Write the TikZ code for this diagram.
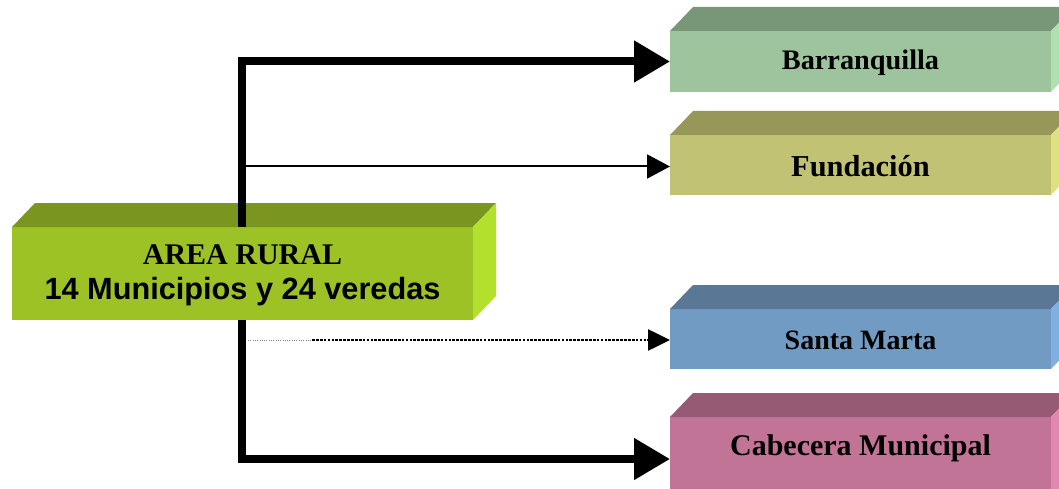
\documentclass[tikz,border=0pt]{standalone}
\usepackage{fontspec}
\setmainfont{Liberation Serif}
\newfontfamily\arialfont{Liberation Sans}
\usetikzlibrary{arrows.meta,calc}
\definecolor{mainF}{RGB}{157,194,38}
\definecolor{mainT}{RGB}{123,150,32}
\definecolor{mainS}{RGB}{178,224,44}
\definecolor{barF}{RGB}{157,196,157}
\definecolor{barT}{RGB}{120,150,120}
\definecolor{barS}{RGB}{176,224,176}
\definecolor{funF}{RGB}{194,194,117}
\definecolor{funT}{RGB}{151,151,90}
\definecolor{funS}{RGB}{224,224,128}
\definecolor{smF}{RGB}{114,155,196}
\definecolor{smT}{RGB}{90,120,150}
\definecolor{smS}{RGB}{128,176,224}
\definecolor{cabF}{RGB}{194,116,151}
\definecolor{cabT}{RGB}{151,90,117}
\definecolor{cabS}{RGB}{224,136,176}
\newcommand\cubebox[8]{%
  \node[frontface, fill=#6, minimum width=#4, minimum height=#5] (#1) at (#2,#3) {};
  \fill[#7] (#1.north west) -- ++(23,-24) -- ($(#1.north east)+(23,-24)$) -- (#1.north east) -- cycle;
  \fill[#8] (#1.north east) -- ++(23,-24) -- ($(#1.south east)+(23,-24)$) -- (#1.south east) -- cycle;
}
\tikzset{
  frontface/.style={anchor=north west, inner sep=0pt, outer sep=0pt, draw=none},
  boxlabel/.style={font=\bfseries\fontsize{28.3}{34}\selectfont, inner sep=0pt},
  thickline/.style={line width=8pt, line join=miter, -{Triangle[length=36pt,width=40pt]}},
  thinline/.style={line width=2pt, -{Triangle[length=23pt,width=24pt]}},
}
\begin{document}
\begin{tikzpicture}[x=1pt,y=-1pt]
\useasboundingbox (0,0) rectangle (1059,489);
\clip (0,0) rectangle (1059,489);
\cubebox{main}{12}{227}{461pt}{93pt}{mainF}{mainT}{mainS}
\cubebox{barr}{670}{31}{381pt}{61pt}{barF}{barT}{barS}
\cubebox{fund}{670}{135}{381pt}{60pt}{funF}{funT}{funS}
\cubebox{sm}{670}{309}{381pt}{60pt}{smF}{smT}{smS}
\cubebox{cab}{670}{417}{381pt}{84pt}{cabF}{cabT}{cabS}
\node[align=center, inner sep=0pt, font=\bfseries\fontsize{30}{35}\selectfont] (mainlbl) at ($(main.center)+(0,2)$) {AREA RURAL\\{\arialfont\fontsize{30.7}{35}\selectfont 14 Municipios y 24 veredas}};
\node[boxlabel] (barrlbl) at ($(barr.center)+(0,1)$) {Barranquilla};
\node[boxlabel, font=\bfseries\fontsize{30.4}{34}\selectfont] (fundlbl) at ($(fund.center)+(0,1)$) {Fundación};
\node[boxlabel, font=\bfseries\fontsize{28}{34}\selectfont] (smlbl) at ($(sm.center)+(0,1)$) {Santa Marta};
\node[boxlabel, font=\bfseries\fontsize{30}{34}\selectfont] (cablbl) at ($(cab.north)+(0,31)$) {Cabecera Municipal};
\coordinate (jt) at (242,227);
\coordinate (jb) at (242,320);
\coordinate (jf) at (242,166.5);
\coordinate (js) at (248,340);
\coordinate (js2) at (312,340);
\draw[thickline] (jt) |- (barr.west);
\draw[thickline] (jb) |- (cab.west);
\draw[thinline] (jf) -- (jf -| fund.west);
\draw[gray, line width=1pt, dash pattern=on 1pt off 1.3pt] (js) -- (js2);
\draw[line width=2.6pt, dash pattern=on 2.7pt off 1.2pt, -{Triangle[length=22pt,width=21pt]}] (js2) -- (js2 -| sm.west);
\end{tikzpicture}
\end{document}
